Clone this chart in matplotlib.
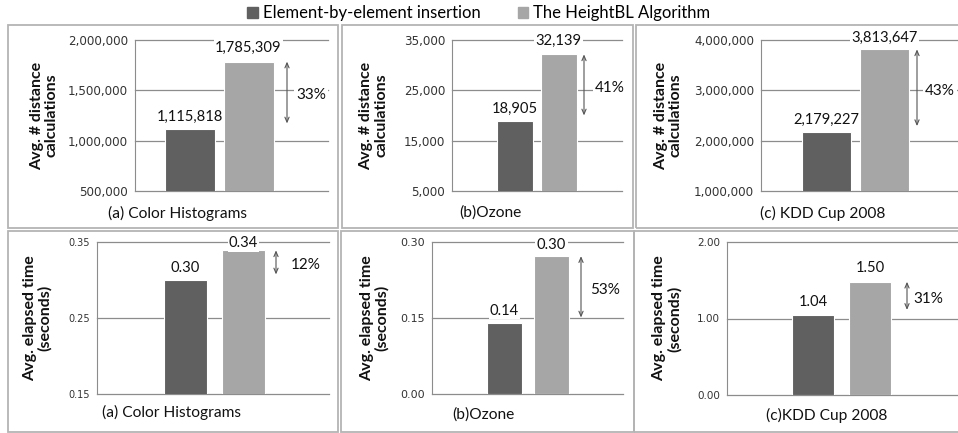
import numpy as np
import matplotlib
matplotlib.use('Agg')
import matplotlib.pyplot as plt
from matplotlib.patches import Patch, Rectangle

plt.rcParams['font.family'] = ['Lato', 'DejaVu Sans']

# ---- data ----
series_names = ["Element-by-element insertion", "The HeightBL Algorithm"]
titles = ["(a) Color Histograms", "(b)Ozone", "(c) KDD Cup 2008",
          "(a) Color Histograms", "(b)Ozone", "(c)KDD Cup 2008"]
ylabels = ["Avg. # distance\ncalculations"] * 3 + ["Avg. elapsed time\n(seconds)"] * 3
dark_vals = [1115818, 18905, 2179227, 0.30, 0.14, 1.04]
light_vals = [1785309, 32139, 3813647, 0.339, 0.272, 1.48]
dark_labels = ["1,115,818", "18,905", "2,179,227", "0.30", "0.14", "1.04"]
light_labels = ["1,785,309", "32,139", "3,813,647", "0.34", "0.30", "1.50"]
pct_labels = ["33%", "41%", "43%", "12%", "53%", "31%"]
yticks = [[500000, 1000000, 1500000, 2000000],
          [5000, 15000, 25000, 35000],
          [1000000, 2000000, 3000000, 4000000],
          [0.15, 0.25, 0.35],
          [0.00, 0.15, 0.30],
          [0.00, 1.00, 2.00]]

DARK = '#606060'
LIGHT = '#a6a6a6'

# ---- layout (pixels in a 958x433 canvas) ----
W, H = 958, 433
frames = [(8, 25, 338, 228), (342, 25, 633, 228), (636, 25, 962, 228),
          (8, 231, 338, 432), (341, 231, 634, 432), (634, 231, 962, 432)]
axes_px = [(135, 40, 328, 191), (452, 40, 622, 191), (761, 40, 958, 191),
           (97, 242, 329, 394), (432, 242, 623, 394), (727, 242, 958, 395)]
bar_centers = [(189.5, 248.5), (515, 558.5), (826.5, 884.5),
               (185.5, 243.5), (504.5, 551.5), (813, 870)]
bar_w = [50, 36, 49, 43, 35, 42]
arrow_x = [287, 584, 917, 276, 581, 907]
pct_x = [311, 610, 940, 306, 605, 928]
ylab_x = [-0.47, -0.46, -0.47, -0.256, -0.30, -0.26]
title_xy = [(177, 213), (490, 213), (823, 213), (172, 412), (483, 415), (827, 415)]
tick_size = [8.6, 8.6, 8.6, 7.0, 8.0, 7.5]
light_off = [14, 14, 11, 7, 11, 14]
dark_off = [12, 12, 12, 12, 12, 13]

fig = plt.figure(figsize=(W / 100, H / 100), dpi=100)

for x0, y0, x1, y1 in frames:
    fig.add_artist(Rectangle((x0 / W, 1 - y1 / H), (x1 - x0) / W, (y1 - y0) / H,
                             transform=fig.transFigure, fill=False,
                             ec='#b4b4b4', lw=1.3))

for i in range(6):
    x0, y0, x1, y1 = axes_px[i]
    ax = fig.add_axes([x0 / W, 1 - y1 / H, (x1 - x0) / W, (y1 - y0) / H])
    c0, c1 = bar_centers[i]
    unit = c1 - c0
    w = bar_w[i] / unit
    ax.bar([0], [dark_vals[i]], width=w, color=DARK, edgecolor='white', lw=0.8, zorder=3)
    ax.bar([1], [light_vals[i]], width=w, color=LIGHT, edgecolor='white', lw=0.8, zorder=3)
    ax.set_xlim((x0 - c0) / unit, (x1 - c0) / unit)
    ax.set_ylim(yticks[i][0], yticks[i][-1])
    ax.set_yticks(yticks[i])
    if i < 3:
        ax.set_yticklabels([f"{v:,.0f}" for v in yticks[i]])
    else:
        ax.set_yticklabels([f"{v:.2f}" for v in yticks[i]])
    ax.set_xticks([])
    ax.tick_params(axis='y', length=0, pad=5, labelsize=tick_size[i], labelcolor='#333333')
    for lab in ax.get_yticklabels():
        lab.set_family('DejaVu Sans')
    ax.grid(axis='y', color='#8c8c8c', lw=0.9, zorder=0)
    for gl in ax.get_ygridlines():
        gl.set_clip_on(False)
    for s in ['top', 'right', 'bottom']:
        ax.spines[s].set_visible(False)
    ax.spines['left'].set_color('#8c8c8c')
    ax.patch.set_alpha(0)

    # value labels (dark ones sit below the light bar so they never cover it)
    ax.annotate(dark_labels[i], xy=(0, dark_vals[i]), xytext=(0, dark_off[i] * 0.72),
                textcoords='offset points', ha='center', va='center', fontsize=10.6,
                color='#111111', annotation_clip=False, zorder=2.5,
                bbox=dict(fc='white', ec='none', pad=0.6))
    ax.annotate(light_labels[i], xy=(1, light_vals[i]), xytext=(0, light_off[i] * 0.72),
                textcoords='offset points', ha='center', va='center', fontsize=10.6,
                color='#111111', annotation_clip=False, zorder=5,
                bbox=dict(fc='white', ec='none', pad=1.0))

    # difference arrow and percentage
    ax_x = (arrow_x[i] - c0) / unit
    ax.annotate('', xy=(ax_x, dark_vals[i]), xytext=(ax_x, light_vals[i]),
                arrowprops=dict(arrowstyle='<->,head_length=0.35,head_width=0.15',
                                color='#555555', lw=0.8, shrinkA=0, shrinkB=4),
                annotation_clip=False, zorder=4)
    ax.text((pct_x[i] - c0) / unit, (dark_vals[i] + light_vals[i]) / 2, pct_labels[i],
            ha='center', va='center', fontsize=11, color='#111111', zorder=5,
            bbox=dict(fc='white', ec='none', pad=1.5), clip_on=False)

    ax.text(ylab_x[i], 0.5, ylabels[i], transform=ax.transAxes, rotation=90,
            ha='center', va='center', fontsize=11.5, fontweight='bold',
            color='#111111', linespacing=1.05)

    tx, ty = title_xy[i]
    fig.text(tx / W, 1 - ty / H, titles[i], ha='center', va='center',
             fontsize=11.2, color='#111111')

handles = [Patch(color=DARK), Patch(color=LIGHT)]
fig.legend(handles, series_names, loc='center', bbox_to_anchor=(0.5, 1 - 13 / H),
           ncol=2, frameon=False, fontsize=12, handlelength=0.65, handleheight=0.65,
           handletextpad=0.3, columnspacing=2.2, borderaxespad=0)

fig.savefig('out.png', dpi=100)
